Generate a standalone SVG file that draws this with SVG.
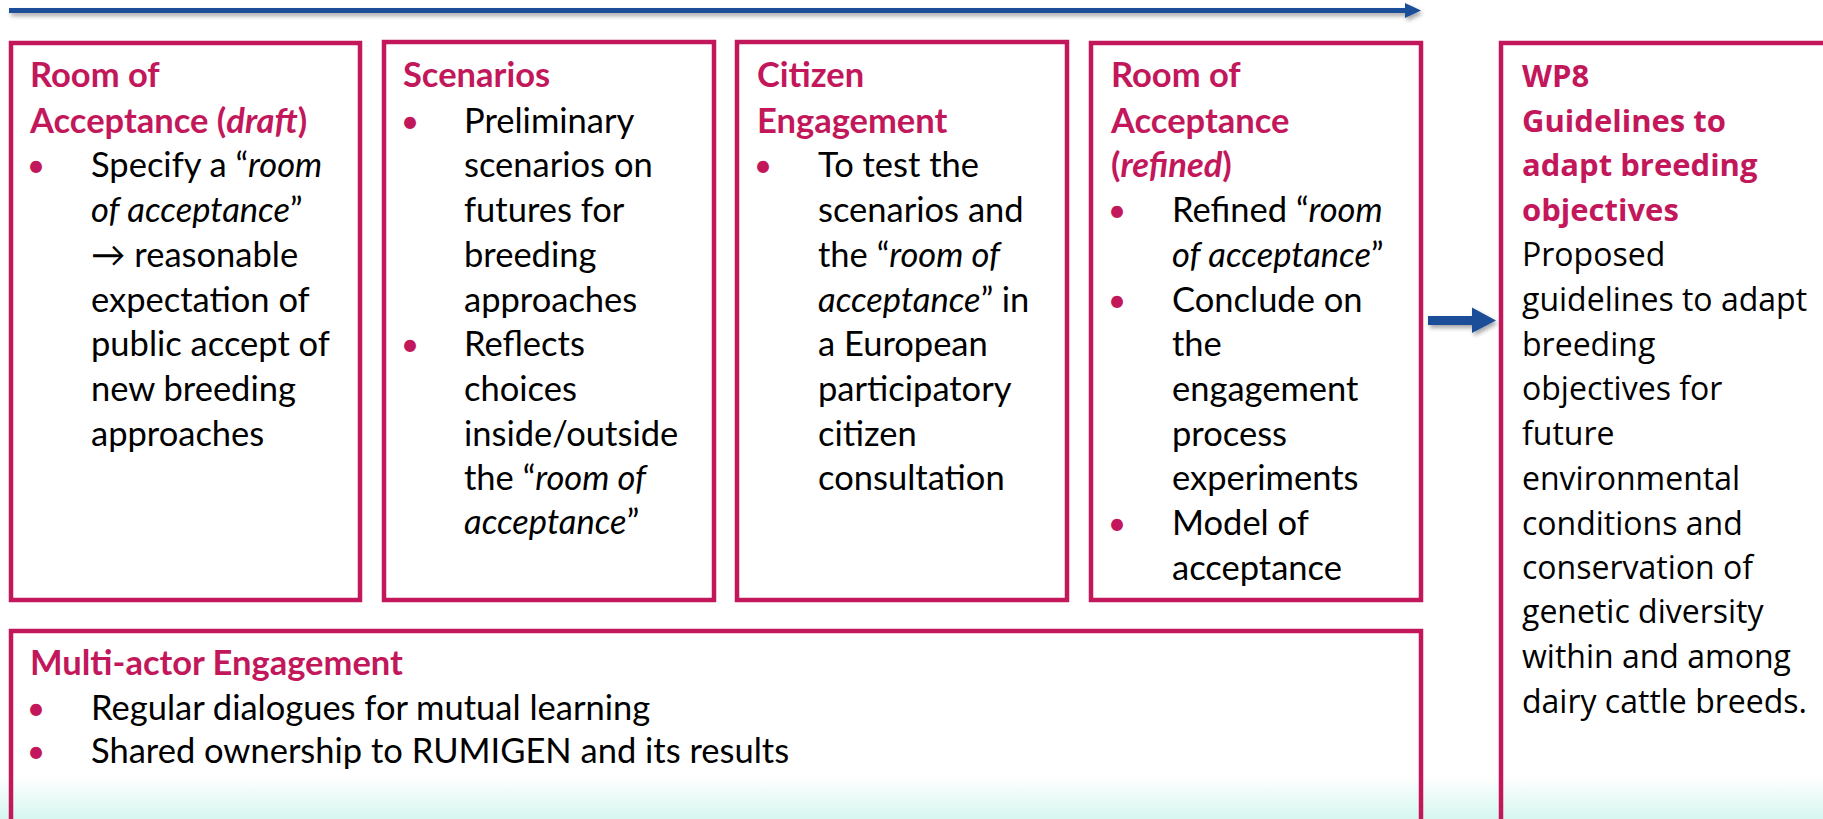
<svg xmlns="http://www.w3.org/2000/svg" width="1823" height="819" viewBox="0 0 1823 819">
<defs>
<linearGradient id="bg" x1="0" y1="0" x2="0" y2="1">
<stop offset="0" stop-color="#ffffff"/>
<stop offset="1" stop-color="#d6f6ef"/>
</linearGradient>
<filter id="sh" filterUnits="userSpaceOnUse" x="0" y="0" width="1823" height="400">
<feDropShadow dx="2" dy="3" stdDeviation="2" flood-color="#000" flood-opacity="0.35"/>
</filter>
</defs>
<style>
.box{fill:none;stroke:#C2185B;stroke-width:4.5}
.t{font-family:Lato,"Noto Sans",sans-serif;font-size:34.5px;fill:#000}
.h{font-family:Lato,"Noto Sans",sans-serif;font-size:34.5px;font-weight:bold;fill:#C2185B}
.b{font-family:Lato,"Noto Sans",sans-serif;font-size:32px;fill:#C2185B;text-anchor:middle}
.w{font-family:"Open Sans","Noto Sans",sans-serif;font-size:32px;fill:#000}
.wh{font-family:"Open Sans","Noto Sans",sans-serif;font-size:31px;font-weight:bold;fill:#C2185B}
.i{font-style:italic}
.arr{fill:#1F4E99}
</style>
<rect x="0" y="0" width="1823" height="819" fill="#ffffff"/>
<rect x="0" y="776" width="1823" height="43" fill="url(#bg)"/>

<g id="connectors">
<path class="arr" d="M9,8 L1405,8 L1405,3 L1421,10.5 L1405,18 L1405,13 L9,13 Z" filter="url(#sh)"/>
<path class="arr" d="M1428,316 L1472,316 L1472,307.5 L1496,320.5 L1472,333 L1472,325 L1428,325 Z" filter="url(#sh)"/>
</g>

<g id="room-draft">
<rect class="box" x="11" y="43" width="349" height="557"/>
<text class="h" x="30" y="87">Room of</text>
<text class="h" x="30" y="133">Acceptance (<tspan class="i">draft</tspan>)</text>
<text class="b" x="36" y="177">•</text>
<text class="t" x="91" y="177">Specify a “<tspan class="i">room</tspan></text>
<text class="t" x="91" y="222"><tspan class="i">of acceptance</tspan>”</text>
<text class="t" x="91" y="267">→ reasonable</text>
<text class="t" x="91" y="312">expectation of</text>
<text class="t" x="91" y="356">public accept of</text>
<text class="t" x="91" y="401">new breeding</text>
<text class="t" x="91" y="446">approaches</text>
</g>

<g id="scenarios">
<rect class="box" x="384" y="42" width="330" height="558"/>
<text class="h" x="403" y="87">Scenarios</text>
<text class="b" x="410" y="133">•</text>
<text class="t" x="464" y="133">Preliminary</text>
<text class="t" x="464" y="177">scenarios on</text>
<text class="t" x="464" y="222">futures for</text>
<text class="t" x="464" y="267">breeding</text>
<text class="t" x="464" y="312">approaches</text>
<text class="b" x="410" y="356">•</text>
<text class="t" x="464" y="356">Reflects</text>
<text class="t" x="464" y="401">choices</text>
<text class="t" x="464" y="446">inside/outside</text>
<text class="t" x="464" y="490">the “<tspan class="i">room of</tspan></text>
<text class="t" x="464" y="534"><tspan class="i">acceptance</tspan>”</text>
</g>

<g id="citizen-engagement">
<rect class="box" x="737" y="42" width="330" height="558"/>
<text class="h" x="757" y="87">Citizen</text>
<text class="h" x="757" y="133">Engagement</text>
<text class="b" x="763" y="177">•</text>
<text class="t" x="818" y="177">To test the</text>
<text class="t" x="818" y="222">scenarios and</text>
<text class="t" x="818" y="267">the “<tspan class="i">room of</tspan></text>
<text class="t" x="818" y="312"><tspan class="i">acceptance</tspan>” in</text>
<text class="t" x="818" y="356">a European</text>
<text class="t" x="818" y="401">participatory</text>
<text class="t" x="818" y="446">citizen</text>
<text class="t" x="818" y="490">consultation</text>
</g>

<g id="room-refined">
<rect class="box" x="1091" y="43" width="330" height="557"/>
<text class="h" x="1111" y="87">Room of</text>
<text class="h" x="1111" y="133">Acceptance</text>
<text class="h" x="1111" y="177">(<tspan class="i">refined</tspan>)</text>
<text class="b" x="1117" y="222">•</text>
<text class="t" x="1172" y="222">Refined “<tspan class="i">room</tspan></text>
<text class="t" x="1172" y="267"><tspan class="i">of acceptance</tspan>”</text>
<text class="b" x="1117" y="312">•</text>
<text class="t" x="1172" y="312">Conclude on</text>
<text class="t" x="1172" y="356">the</text>
<text class="t" x="1172" y="401">engagement</text>
<text class="t" x="1172" y="446">process</text>
<text class="t" x="1172" y="490">experiments</text>
<text class="b" x="1117" y="535">•</text>
<text class="t" x="1172" y="535">Model of</text>
<text class="t" x="1172" y="580">acceptance</text>
</g>

<g id="multi-actor">
<rect class="box" x="11" y="631" width="1410" height="220"/>
<text class="h" x="30" y="675">Multi-actor Engagement</text>
<text class="b" x="36" y="720">•</text>
<text class="t" x="91" y="720">Regular dialogues for mutual learning</text>
<text class="b" x="36" y="763">•</text>
<text class="t" x="91" y="763">Shared ownership to RUMIGEN and its results</text>
</g>

<g id="wp8">
<rect class="box" x="1501" y="43" width="360" height="820"/>
<text class="wh" x="1522" y="87">WP8</text>
<text class="wh" x="1522" y="132">Guidelines to</text>
<text class="wh" x="1522" y="176">adapt breeding</text>
<text class="wh" x="1522" y="221">objectives</text>
<text class="w" x="1522" y="266">Proposed</text>
<text class="w" x="1522" y="311">guidelines to adapt</text>
<text class="w" x="1522" y="356">breeding</text>
<text class="w" x="1522" y="400">objectives for</text>
<text class="w" x="1522" y="445">future</text>
<text class="w" x="1522" y="490">environmental</text>
<text class="w" x="1522" y="535">conditions and</text>
<text class="w" x="1522" y="579">conservation of</text>
<text class="w" x="1522" y="623">genetic diversity</text>
<text class="w" x="1522" y="668">within and among</text>
<text class="w" x="1522" y="713">dairy cattle breeds.</text>
</g>
</svg>
